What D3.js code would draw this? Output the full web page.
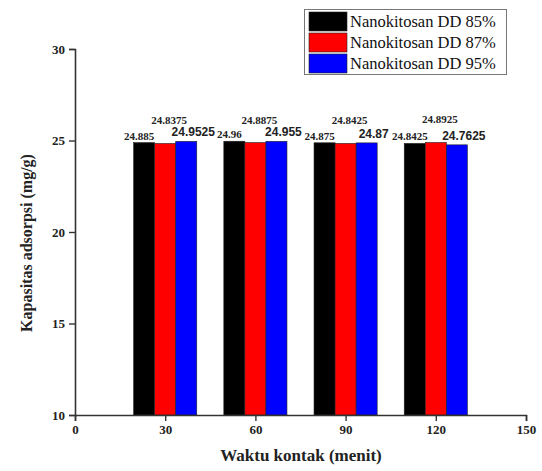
<!DOCTYPE html>
<html>
<head>
<meta charset="utf-8">
<script src="https://cdn.jsdelivr.net/npm/d3@7"></script>
<style>
  html, body { margin: 0; padding: 0; background: #fff; }
  svg { display: block; }
</style>
</head>
<body>
<svg id="chart" width="542" height="471"></svg>
<script>
// Contact times (minutes) and adsorption capacity (mg/g) per nanochitosan grade
const times = [30, 60, 90, 120];
const seriesNames = ["Nanokitosan DD 85%", "Nanokitosan DD 87%", "Nanokitosan DD 95%"];
const dd85 = [24.885, 24.96, 24.875, 24.8425];
const dd87 = [24.8375, 24.8875, 24.8425, 24.8925];
const dd95 = [24.9525, 24.955, 24.87, 24.7625];
const xTicks = [0, 30, 60, 90, 120, 150];
const yTicks = [10, 15, 20, 25, 30];

const colors = ["#000000", "#ff0000", "#0000ff"];
const seriesValues = [dd85, dd87, dd95];

const svg = d3.select("#chart");
const x = d3.scaleLinear().domain([0, 150]).range([75, 526]);
const y = d3.scaleLinear().domain([10, 30]).range([415, 49]);

const barW = 7;                // bar width in minutes
const offsets = [-7, 0, 7];    // bar centre offsets within a group

// label placement per series: [dx px, dy px, font family, size]
const labelStyle = [
  { dx: -5, dy: -3, font: "'Liberation Serif', 'Times New Roman', serif", size: 11 },
  { dx: 4, dy: -19, font: "'Liberation Serif', 'Times New Roman', serif", size: 11 },
  { dx: 7, dy: -5, font: "'Liberation Sans', Arial, sans-serif", size: 12 }
];

seriesValues.forEach((vals, s) => {
  const g = svg.append("g");
  g.selectAll("rect").data(times).enter().append("rect")
    .attr("x", (t) => x(t + offsets[s] - barW / 2))
    .attr("width", (t) => x(t + offsets[s] + barW / 2) - x(t + offsets[s] - barW / 2))
    .attr("y", (t, i) => y(vals[i]))
    .attr("height", (t, i) => y(10) - y(vals[i]))
    .attr("fill", colors[s])
    .attr("stroke", "#222")
    .attr("stroke-width", 0.6);
  g.selectAll("text").data(times).enter().append("text")
    .attr("x", (t) => x(t + offsets[s]) + labelStyle[s].dx)
    .attr("y", (t, i) => y(vals[i]) + labelStyle[s].dy)
    .attr("text-anchor", "middle")
    .attr("font-family", labelStyle[s].font)
    .attr("font-size", labelStyle[s].size)
    .attr("font-weight", "bold")
    .attr("fill", "#222")
    .text((t, i) => vals[i]);
});

// axes
const serif = "'Liberation Serif', 'Times New Roman', serif";
const xAxis = svg.append("g").attr("transform", `translate(0,${y(10)})`)
  .call(d3.axisBottom(x).tickValues(xTicks).tickSize(6).tickPadding(4).tickFormat(d3.format("d")));
const yAxis = svg.append("g").attr("transform", `translate(${x(0)},0)`)
  .call(d3.axisLeft(y).tickValues(yTicks).tickSize(6).tickPadding(4).tickFormat(d3.format("d")));
[xAxis, yAxis].forEach(a => {
  a.select(".domain").attr("stroke", "#333").attr("stroke-width", 1.6);
  a.selectAll(".tick line").attr("stroke", "#333").attr("stroke-width", 1.4);
  a.selectAll(".tick text").attr("font-family", serif).attr("font-size", 13)
    .attr("font-weight", "bold").attr("fill", "#222");
});

// axis titles
svg.append("text")
  .attr("x", 301).attr("y", 461)
  .attr("text-anchor", "middle")
  .attr("font-family", serif).attr("font-size", 17).attr("font-weight", "bold")
  .attr("fill", "#222")
  .text("Waktu kontak (menit)");
svg.append("text")
  .attr("transform", "translate(32,243) rotate(-90)")
  .attr("text-anchor", "middle")
  .attr("font-family", serif).attr("font-size", 16).attr("font-weight", "bold")
  .attr("fill", "#222")
  .text("Kapasitas adsorpsi (mg/g)");

// legend
const legend = svg.append("g");
legend.append("rect")
  .attr("x", 304.5).attr("y", 9.5).attr("width", 202).attr("height", 65)
  .attr("fill", "#fff").attr("stroke", "#777").attr("stroke-width", 1);
seriesNames.forEach((name, i) => {
  const ry = 12 + i * 21;
  legend.append("rect")
    .attr("x", 309).attr("y", ry).attr("width", 38).attr("height", 19)
    .attr("fill", colors[i]).attr("stroke", "#222").attr("stroke-width", 0.6);
  legend.append("text")
    .attr("x", 350).attr("y", ry + 15)
    .attr("font-family", serif).attr("font-size", 16.5)
    .attr("fill", "#111")
    .text(name);
});
</script>
</body>
</html>
